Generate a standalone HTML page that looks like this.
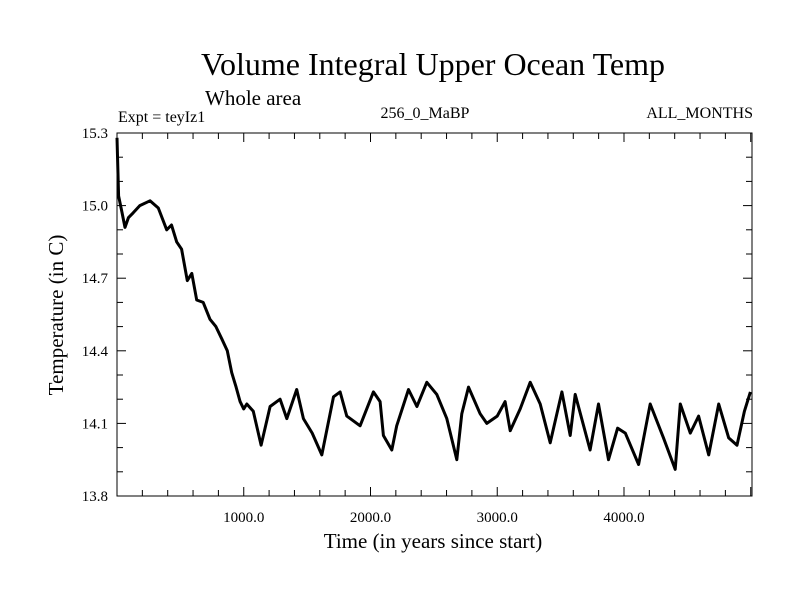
<!DOCTYPE html>
<html><head><meta charset="utf-8"><style>
body{margin:0;background:#fff}
svg{display:block;font-family:"Liberation Serif",serif}
</style></head><body>
<svg id="chart" width="800" height="600">
<text x="433" y="75" font-size="32" text-anchor="middle">Volume Integral Upper Ocean Temp</text>
<text x="205" y="105" font-size="21">Whole area</text>
<text x="118" y="122" font-size="16">Expt = teyIz1</text>
<text x="425" y="118" font-size="16" text-anchor="middle">256_0_MaBP</text>
<text x="753" y="118" font-size="16" text-anchor="end">ALL_MONTHS</text>
<text x="433" y="548" font-size="21" text-anchor="middle">Time (in years since start)</text>
<text transform="translate(63,315) rotate(-90)" font-size="21" text-anchor="middle">Temperature (in C)</text>
<g id="axes"></g>
<path id="series" fill="none" stroke="#000" stroke-width="3" stroke-linejoin="round"></path>
</svg>
<script>
const years=[0,13,40,63,90,127,180,260,326,392,430,471,510,555,590,629,680,734,780,826,870,905,940,971,1000,1024,1075,1137,1208,1287,1340,1418,1471,1540,1616,1708,1760,1813,1918,2023,2076,2102,2168,2207,2300,2366,2444,2523,2602,2681,2720,2773,2865,2918,3000,3062,3102,3181,3260,3339,3418,3510,3576,3615,3733,3799,3878,3950,4010,4115,4207,4312,4404,4444,4523,4589,4668,4747,4826,4892,4950,4997];
const temps=[15.28,15.04,14.97,14.91,14.95,14.97,15.0,15.02,14.99,14.90,14.92,14.85,14.82,14.69,14.72,14.61,14.60,14.53,14.50,14.45,14.40,14.31,14.25,14.19,14.16,14.18,14.15,14.01,14.17,14.20,14.12,14.24,14.12,14.06,13.97,14.21,14.23,14.13,14.09,14.23,14.19,14.05,13.99,14.09,14.24,14.17,14.27,14.22,14.12,13.95,14.14,14.25,14.14,14.10,14.13,14.19,14.07,14.16,14.27,14.18,14.02,14.23,14.05,14.22,13.99,14.18,13.95,14.08,14.06,13.93,14.18,14.04,13.91,14.18,14.06,14.13,13.97,14.18,14.04,14.01,14.15,14.23];
const yTicks=[13.8,14.1,14.4,14.7,15.0,15.3];
const yTickLabels=["13.8","14.1","14.4","14.7","15.0","15.3"];
const xTicks=[1000,2000,3000,4000];
const xTickLabels=["1000.0","2000.0","3000.0","4000.0"];
const L=117,R=752,T=133,B=496,X0=0,X1=5010,Y0=13.8,Y1=15.3;
const sx=v=>L+(v-X0)/(X1-X0)*(R-L);
const sy=v=>B-(v-Y0)/(Y1-Y0)*(B-T);
const NS="http://www.w3.org/2000/svg";
const ax=document.getElementById('axes');
function mk(tag,attrs,txt){const e=document.createElementNS(NS,tag);for(const k in attrs)e.setAttribute(k,attrs[k]);if(txt!==undefined)e.textContent=txt;ax.appendChild(e);return e;}
const frame=mk('rect',{x:L,y:T,width:R-L,height:B-T,fill:'none',stroke:'#000','stroke-width':1});


for(let v=200;v<X1;v+=200){const x=sx(v);const big=v%1000===0;const h=big?9:6;
 const t1=mk('line',{x1:x,x2:x,y1:B,y2:B-h,stroke:'#000'});
 
 
 const t2=mk('line',{x1:x,x2:x,y1:T,y2:T+h,stroke:'#000'});
 
 }
xTicks.forEach((v,i)=>{const t=mk('text',{x:sx(v),y:B+26,'font-size':15,'text-anchor':'middle'},xTickLabels[i]);
 
 });
for(let k=1;k<15;k++){const v=Y0+k*0.1;const y=sy(v);const big=k%3===0;const h=big?9:6;
 const t1=mk('line',{x1:L,x2:L+h,y1:y,y2:y,stroke:'#000'});
 
 
 const t2=mk('line',{x1:R,x2:R-h,y1:y,y2:y,stroke:'#000'});
 
 }
yTicks.forEach((v,i)=>{const t=mk('text',{x:L-9,y:sy(v)+5,'font-size':15,'text-anchor':'end'},yTickLabels[i]);
 
 });
document.getElementById('series').setAttribute('d',years.map((v,i)=>(i?'L':'M')+sx(v).toFixed(1)+','+sy(temps[i]).toFixed(1)).join(''));
</script>
</body></html>
